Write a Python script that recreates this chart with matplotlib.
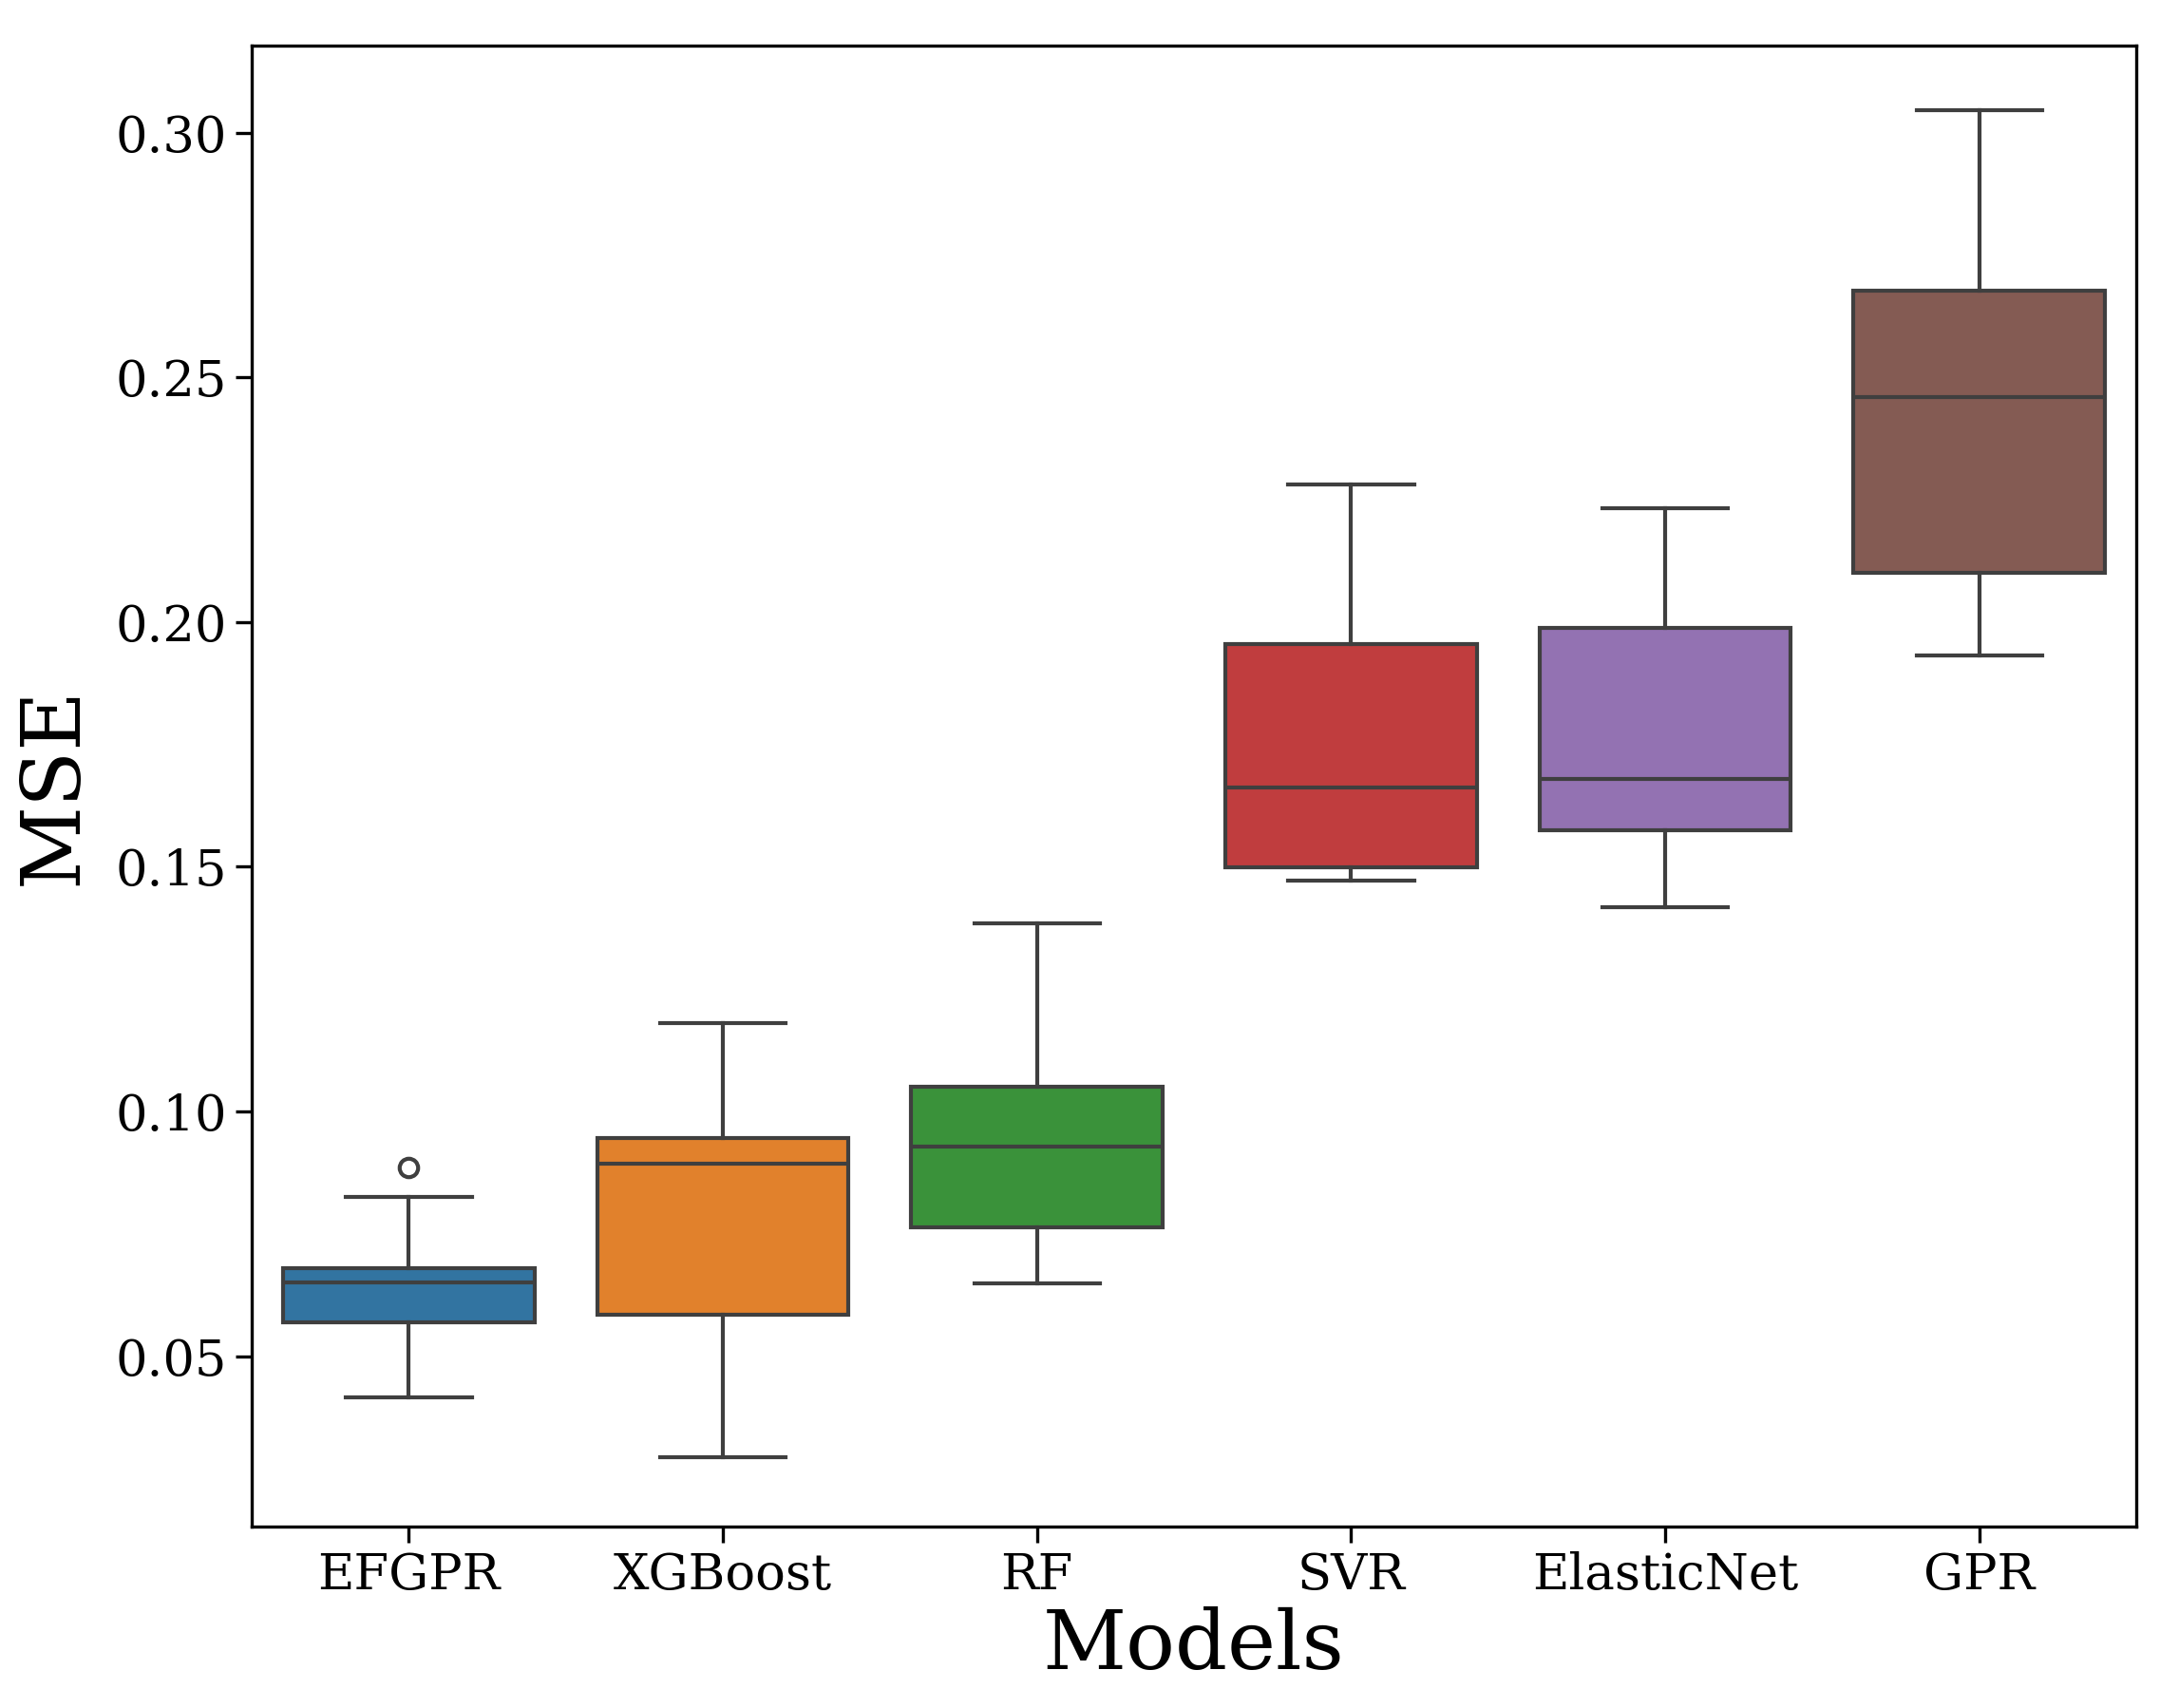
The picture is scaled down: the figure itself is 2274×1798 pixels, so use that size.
import matplotlib
matplotlib.use("Agg")
import matplotlib.pyplot as plt

# 箱ひげ図の統計値
models = ["EFGPR", "XGBoost", "RF", "SVR", "ElasticNet", "GPR"]
whis_lo = [0.0416, 0.0294, 0.0648, 0.1471, 0.1418, 0.1932]
q1 = [0.0570, 0.0584, 0.0763, 0.1499, 0.1575, 0.2101]
medians = [0.0651, 0.0893, 0.0929, 0.1662, 0.1679, 0.2460]
q3 = [0.0680, 0.0946, 0.1050, 0.1955, 0.1988, 0.2677]
whis_hi = [0.0826, 0.1180, 0.1384, 0.2281, 0.2233, 0.3045]
outliers = [[0.0885], [], [], [], [], []]

colors = ["#3274a1", "#e1812c", "#3a923a", "#c03d3e", "#9372b2", "#845b53"]
line_color = "#3f3f3f"

plt.rcParams["font.family"] = ["DejaVu Serif"]

stats = []
for i, m in enumerate(models):
    stats.append({
        "label": m,
        "whislo": whis_lo[i],
        "q1": q1[i],
        "med": medians[i],
        "q3": q3[i],
        "whishi": whis_hi[i],
        "fliers": outliers[i],
    })

fig = plt.figure(figsize=(11.37, 8.99), dpi=200)
ax = fig.add_axes([0.1166, 0.1065, 0.8724, 0.8669])

lw = 1.5
bp = ax.bxp(
    stats,
    positions=range(len(models)),
    widths=0.8,
    patch_artist=True,
    boxprops=dict(edgecolor=line_color, linewidth=lw),
    medianprops=dict(color=line_color, linewidth=lw),
    whiskerprops=dict(color=line_color, linewidth=lw),
    capprops=dict(color=line_color, linewidth=lw),
    flierprops=dict(marker="o", markerfacecolor="none", markeredgecolor=line_color,
                    markersize=7, markeredgewidth=lw),
    capwidths=0.4,
)
for patch, c in zip(bp["boxes"], colors):
    patch.set_facecolor(c)

ax.set_xlim(-0.5, len(models) - 0.5)
ax.set_ylim(0.0153, 0.3178)
ax.set_yticks([0.05, 0.10, 0.15, 0.20, 0.25, 0.30])
ax.set_yticklabels(["0.05", "0.10", "0.15", "0.20", "0.25", "0.30"])
ax.tick_params(axis="both", labelsize=19, length=6, width=1.2, direction="out")
for s in ax.spines.values():
    s.set_linewidth(1.2)
    s.set_color("black")

ax.set_xlabel("Models", fontsize=31, labelpad=3)
ax.set_ylabel("MSE", fontsize=31, labelpad=8)

plt.savefig("out.png", dpi=200)
